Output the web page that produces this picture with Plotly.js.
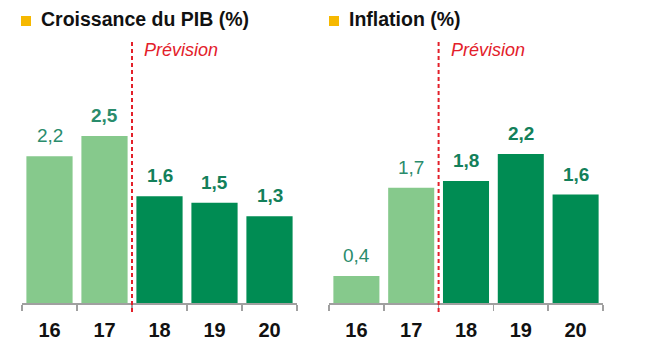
<!DOCTYPE html>
<html>
<head>
<meta charset="utf-8">
<script src="https://cdn.plot.ly/plotly-3.0.1.min.js"></script>
<style>html,body{margin:0;padding:0;background:#fff;}#chart{width:650px;height:345px;}</style>
</head>
<body>
<div id="chart"></div>
<script>
// ---- data ----
var years = ["16", "17", "18", "19", "20"];
var gdpGrowth = [2.2, 2.5, 1.6, 1.5, 1.3];
var inflation = [0.4, 1.7, 1.8, 2.2, 1.6];
var forecastStart = "18";
var gdpTitle = "Croissance du PIB (%)";
var inflTitle = "Inflation (%)";
var forecastLabel = "Prévision";

// ---- style ----
var lightGreen = "#86c98c";
var darkGreen = "#008c53";
var labelLight = "#2a8c6c";
var labelDark = "#13805a";
var gdpBold = [false, true, true, true, true];
var inflBold = [false, false, true, true, true];
var sans = "'Liberation Sans', Arial, sans-serif";

var fIdx = years.indexOf(forecastStart);
function barColors() { return years.map(function (y, i) { return i < fIdx ? lightGreen : darkGreen; }); }
function fmt(v) { return v.toFixed(1).replace(".", ","); }

var traces = [
  { type: "bar", x: years, y: gdpGrowth, xaxis: "x", yaxis: "y",
    marker: { color: barColors() }, hoverinfo: "none" },
  { type: "bar", x: years, y: inflation, xaxis: "x2", yaxis: "y2",
    marker: { color: barColors() }, hoverinfo: "none" }
];

var annotations = [];
var shapes = [];
function addLabels(vals, bold, xr, yr) {
  vals.forEach(function (v, i) {
    annotations.push({
      x: i, y: v, xref: xr, yref: yr, text: bold[i] ? "<b>" + fmt(v) + "</b>" : fmt(v),
      showarrow: false, yanchor: "bottom", yshift: 8,
      font: { family: sans, size: 19, color: i < fIdx ? labelLight : labelDark }
    });
  });
}
addLabels(gdpGrowth, gdpBold, "x", "y");
addLabels(inflation, inflBold, "x2", "y2");

function addPanelDecor(xr, titleText, titleX, sqX0) {
  shapes.push({ type: "line", xref: xr, yref: "paper", x0: fIdx - 0.5, x1: fIdx - 0.5,
    y0: (345 - 312) / 345, y1: (345 - 41) / 345,
    line: { color: "#e3202a", width: 2, dash: "4px,3px" } });
  annotations.push({ x: fIdx - 0.5, xref: xr, y: (345 - 50) / 345, yref: "paper",
    text: forecastLabel, showarrow: false, xanchor: "left", yanchor: "middle", xshift: 10,
    font: { family: sans, size: 18, color: "#e3202a", style: "italic" } });
  shapes.push({ type: "rect", xref: "paper", yref: "paper",
    x0: sqX0 / 650, x1: (sqX0 + 10) / 650, y0: (345 - 26) / 345, y1: (345 - 16) / 345,
    fillcolor: "#f6b800", line: { width: 0 } });
  annotations.push({ x: titleX / 650, xref: "paper", y: (345 - 19) / 345, yref: "paper",
    text: "<b>" + titleText + "</b>", showarrow: false, xanchor: "left", yanchor: "middle",
    font: { family: sans, size: 19.5, color: "#111" } });
}
addPanelDecor("x", gdpTitle, 39, 21);
addPanelDecor("x2", inflTitle, 347, 329);

var xCommon = {
  type: "category", range: [-0.5, 4.5], showline: true, linecolor: "#a0a0a0", linewidth: 1.5,
  ticks: "outside", tickson: "boundaries", ticklen: 6, tickcolor: "#a0a0a0", tickwidth: 1.5,
  showgrid: false, zeroline: false, fixedrange: true, ticklabelstandoff: 8,
  tickfont: { family: sans, size: 20, color: "#111", weight: "bold" }
};
var yDomain = [(345 - 303) / 345, (345 - 40) / 345];
var yCommon = { domain: yDomain, visible: false, showgrid: false, zeroline: false, fixedrange: true };

var layout = {
  width: 650, height: 345, margin: { l: 0, r: 0, t: 0, b: 0 },
  paper_bgcolor: "#fff", plot_bgcolor: "#fff", showlegend: false, bargap: 0.16,
  xaxis: Object.assign({}, xCommon, { domain: [22 / 650, 297 / 650], anchor: "y" }),
  xaxis2: Object.assign({}, xCommon, { domain: [329 / 650, 603 / 650], anchor: "y2" }),
  yaxis: Object.assign({}, yCommon, { range: [0, 3.94], anchor: "x" }),
  yaxis2: Object.assign({}, yCommon, { range: [0, 3.88], anchor: "x2" }),
  annotations: annotations, shapes: shapes
};

Plotly.newPlot("chart", traces, layout, { displayModeBar: false, staticPlot: true });
</script>
</body>
</html>
